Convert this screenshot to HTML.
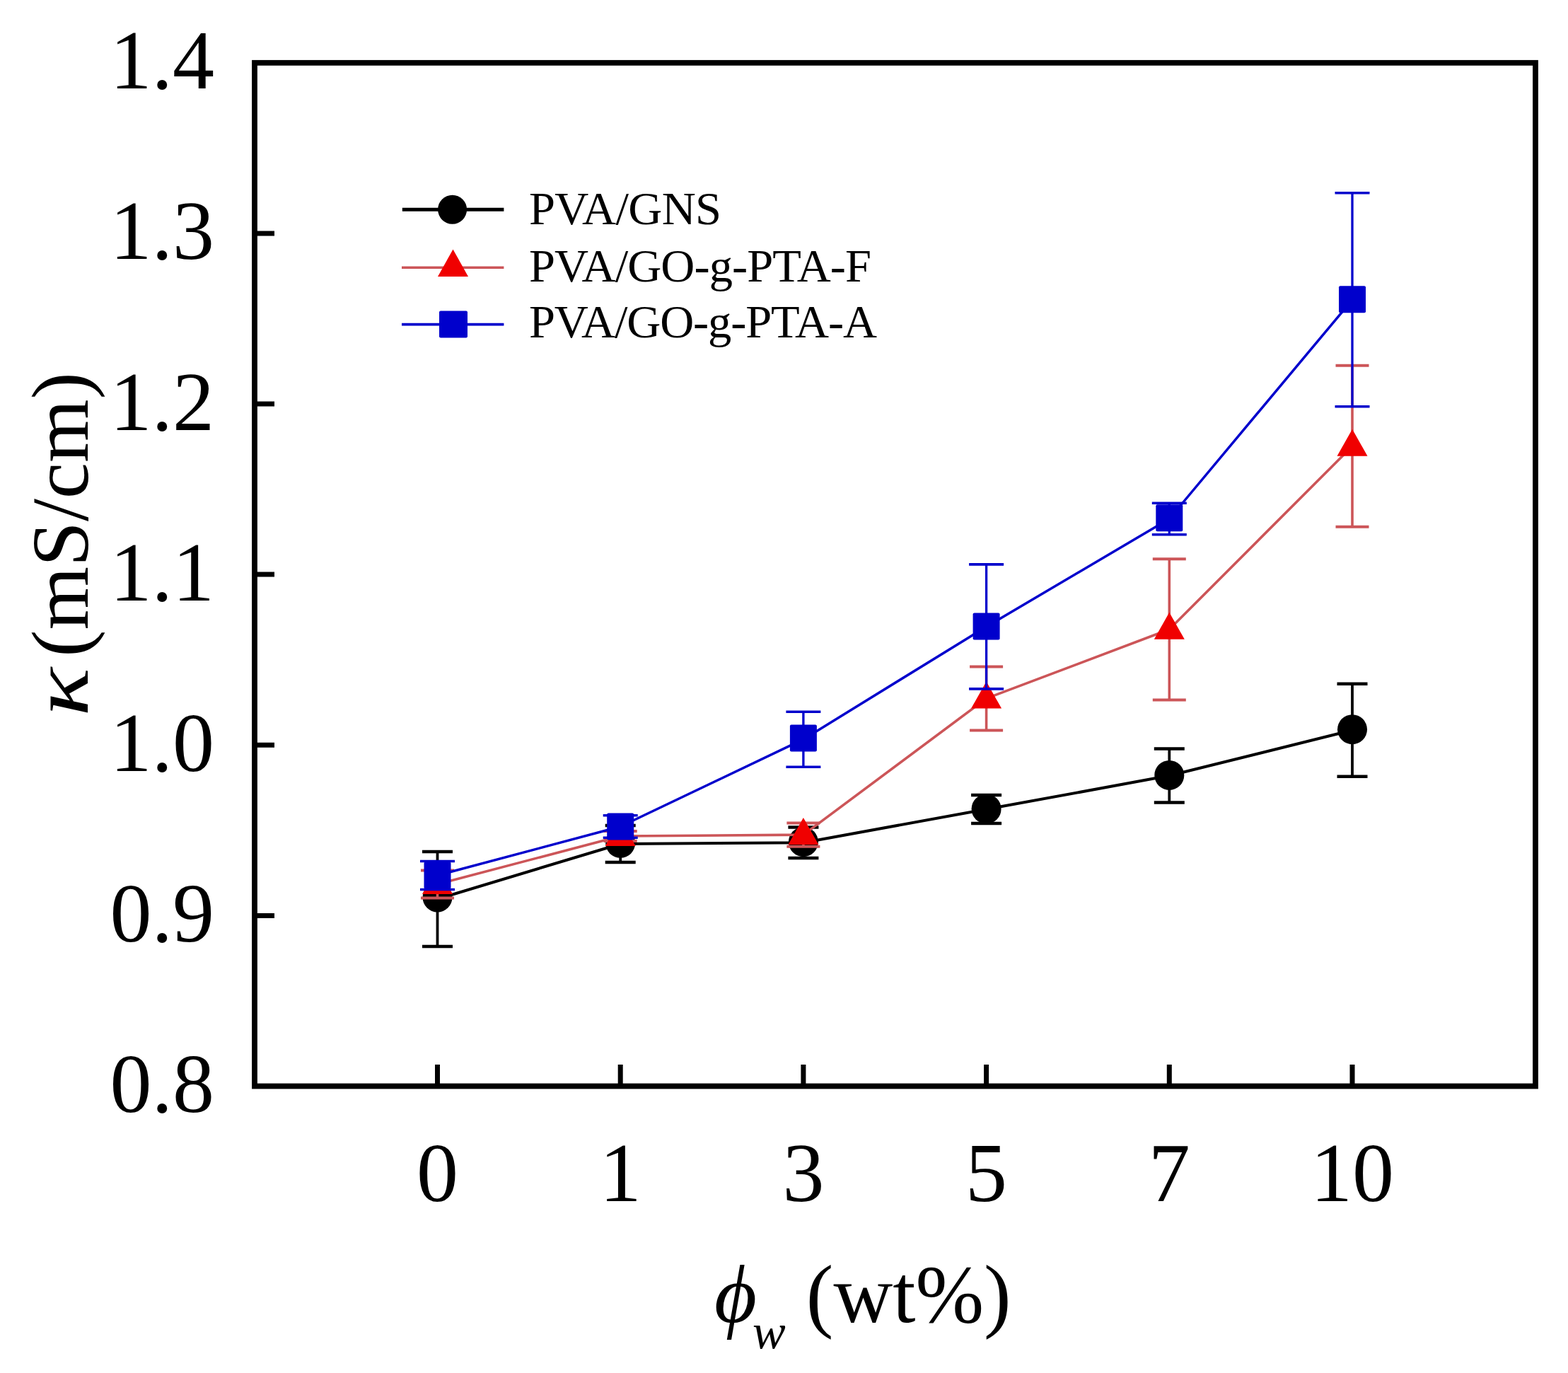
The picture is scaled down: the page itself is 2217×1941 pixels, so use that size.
<!DOCTYPE html>
<html><head><meta charset="utf-8"><style>html,body{margin:0;padding:0;background:#fff;overflow:hidden}svg{display:block}</style></head>
<body>
<svg width="2217" height="1941" viewBox="0 0 2217 1941">
<rect width="2217" height="1941" fill="#fff"/>
<path d="M618.5 1535.5V1505 M877.2 1535.5V1505 M1135.9 1535.5V1505 M1394.6 1535.5V1505 M1653.3 1535.5V1505 M1912.0 1535.5V1505 M360.0 1294.4H388 M360.0 1053.3H388 M360.0 812.1H388 M360.0 571.0H388 M360.0 329.9H388" stroke="#000" stroke-width="7" fill="none"/>
<polyline points="618.5,1271.0 877.2,1193.0 1135.9,1191.2 1394.6,1144.1 1653.3,1096.6 1912.0,1032.2" fill="none" stroke="#000000" stroke-width="4.1" stroke-linejoin="round"/>
<path d="M618.5 1204.0V1338.0 M877.2 1167.0V1219.0 M1135.9 1169.5V1212.9 M1394.6 1124.1V1164.1 M1653.3 1058.6V1134.6 M1912.0 966.7V1097.7" stroke="#000000" stroke-width="3.8" fill="none"/>
<path d="M597.0 1204.0h43M597.0 1338.0h43 M855.7 1167.0h43M855.7 1219.0h43 M1114.4 1169.5h43M1114.4 1212.9h43 M1373.1 1124.1h43M1373.1 1164.1h43 M1631.8 1058.6h43M1631.8 1134.6h43 M1890.5 966.7h43M1890.5 1097.7h43" stroke="#000000" stroke-width="4.5" fill="none"/>
<circle cx="618.5" cy="1268.5" r="21" fill="#000"/>
<circle cx="877.2" cy="1191.8" r="21" fill="#000"/>
<circle cx="1135.9" cy="1190.2" r="21" fill="#000"/>
<circle cx="1394.6" cy="1143.6" r="21" fill="#000"/>
<circle cx="1653.3" cy="1095.9" r="21" fill="#000"/>
<circle cx="1912.0" cy="1031.2" r="21" fill="#000"/>
<polyline points="618.5,1250.0 877.2,1182.0 1135.9,1180.1 1394.6,987.4 1653.3,889.8 1912.0,630.7" fill="none" stroke="#cc5558" stroke-width="3.6" stroke-linejoin="round"/>
<path d="M618.5 1230.6V1269.4 M877.2 1175.0V1189.0 M1135.9 1163.4V1196.8 M1394.6 942.4V1032.4 M1653.3 790.2V989.4 M1912.0 516.7V744.7" stroke="#cc5558" stroke-width="3.6" fill="none"/>
<path d="M595.0 1230.6h47M595.0 1269.4h47 M853.7 1175.0h47M853.7 1189.0h47 M1112.4 1163.4h47M1112.4 1196.8h47 M1371.1 942.4h47M1371.1 1032.4h47 M1629.8 790.2h47M1629.8 989.4h47 M1888.5 516.7h47M1888.5 744.7h47" stroke="#cc5558" stroke-width="4" fill="none"/>
<path d="M618.5 1226.0L640.0 1264.0L597.0 1264.0Z" fill="#f00000"/>
<path d="M877.2 1158.0L898.7 1196.0L855.7 1196.0Z" fill="#f00000"/>
<path d="M1135.9 1156.1L1157.4 1194.1L1114.4 1194.1Z" fill="#f00000"/>
<path d="M1394.6 963.4L1416.1 1001.4L1373.1 1001.4Z" fill="#f00000"/>
<path d="M1653.3 865.8L1674.8 903.8L1631.8 903.8Z" fill="#f00000"/>
<path d="M1912.0 606.7L1933.5 644.7L1890.5 644.7Z" fill="#f00000"/>
<polyline points="618.5,1237.5 877.2,1168.5 1135.9,1045.2 1394.6,885.9 1653.3,733.5 1912.0,423.8" fill="none" stroke="#0000cc" stroke-width="3.5" stroke-linejoin="round"/>
<path d="M618.5 1217.5V1257.5 M877.2 1152.8V1184.2 M1135.9 1006.2V1084.2 M1394.6 797.9V973.9 M1653.3 711.2V755.8 M1912.0 272.8V574.8" stroke="#0000cc" stroke-width="3.3" fill="none"/>
<path d="M594.0 1217.5h49M594.0 1257.5h49 M852.7 1152.8h49M852.7 1184.2h49 M1111.4 1006.2h49M1111.4 1084.2h49 M1370.1 797.9h49M1370.1 973.9h49 M1628.8 711.2h49M1628.8 755.8h49 M1887.5 272.8h49M1887.5 574.8h49" stroke="#0000cc" stroke-width="3.6" fill="none"/>
<rect x="599.5" y="1218.5" width="38" height="38" rx="2" fill="#0000cc"/>
<rect x="858.2" y="1149.5" width="38" height="38" rx="2" fill="#0000cc"/>
<rect x="1116.9" y="1024.6" width="38" height="38" rx="2" fill="#0000cc"/>
<rect x="1375.6" y="866.4" width="38" height="38" rx="2" fill="#0000cc"/>
<rect x="1634.3" y="713.3" width="38" height="38" rx="2" fill="#0000cc"/>
<rect x="1893.0" y="404.3" width="38" height="38" rx="2" fill="#0000cc"/>
<rect x="360.0" y="88.8" width="1811.0" height="1446.7" fill="none" stroke="#000" stroke-width="7.8"/>
<path d="M568.8 296.2H712.4" stroke="#000" stroke-width="5"/>
<circle cx="639.6" cy="296.2" r="20.5" fill="#000"/>
<path d="M568 378.2H712.4" stroke="#cc5558" stroke-width="3.6"/>
<path d="M640.5 352.5L662.0 391.0L619.0 391.0Z" fill="#f00000"/>
<path d="M568 458.6H712.4" stroke="#0000cc" stroke-width="3.6"/>
<rect x="621" y="439.5" width="40" height="38" rx="2" fill="#0000cc"/>
<g style="font-family:'Liberation Serif','Times New Roman',serif;font-size:66.5px" fill="#000">
<text x="748" y="316.7" textLength="272">PVA/GNS</text>
<text x="748" y="397.7" textLength="484">PVA/GO-g-PTA-F</text>
<text x="748" y="477.4" textLength="492">PVA/GO-g-PTA-A</text>
</g>
<g style="font-family:'Liberation Serif','Times New Roman',serif;font-size:118px" fill="#000" text-anchor="end">
<text x="303" y="1572.0">0.8</text>
<text x="303" y="1330.9">0.9</text>
<text x="303" y="1089.8">1.0</text>
<text x="303" y="848.6">1.1</text>
<text x="303" y="607.5">1.2</text>
<text x="303" y="366.4">1.3</text>
<text x="303" y="125.3">1.4</text>
</g>
<g style="font-family:'Liberation Serif','Times New Roman',serif;font-size:118px" fill="#000" text-anchor="middle">
<text x="618.5" y="1697.5">0</text>
<text x="877.2" y="1697.5">1</text>
<text x="1135.9" y="1697.5">3</text>
<text x="1394.6" y="1697.5">5</text>
<text x="1653.3" y="1697.5">7</text>
<text x="1912.0" y="1697.5">10</text>
</g>
<text transform="translate(124.3,1012.7) rotate(-90) scale(1.25,1)" style="font-family:'Liberation Serif','Times New Roman',serif;font-size:115px;font-style:italic" fill="#000">&#954;</text>
<text transform="translate(124.3,928.75) rotate(-90)" style="font-family:'Liberation Serif','Times New Roman',serif;font-size:115px" fill="#000">(mS/cm)</text>
<text x="1010" y="1868.5" style="font-family:'Liberation Serif','Times New Roman',serif;font-size:116px" fill="#000"><tspan style="font-style:italic">&#981;</tspan><tspan style="font-style:italic;font-size:70px" dx="-6" dy="37">w</tspan><tspan dy="-37"> (wt%)</tspan></text>
</svg>
</body></html>
